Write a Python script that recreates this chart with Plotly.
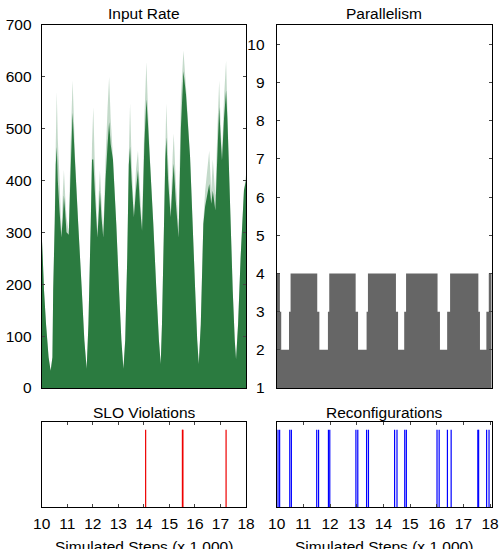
import plotly.graph_objects as go

W, H = 503, 549

# ---------------- data ----------------
# Input rate: simulated steps (x 1,000), solid envelope and faint tip envelope
rate_steps = [10.00, 10.04, 10.09, 10.17, 10.27, 10.35, 10.42, 10.45, 10.51, 10.55,
              10.59, 10.63, 10.70, 10.77, 10.83, 10.87, 10.92, 10.97, 11.06, 11.12,
              11.21, 11.26, 11.30, 11.43, 11.57, 11.67, 11.76, 11.83, 11.92, 11.97,
              12.02, 12.08, 12.18, 12.24, 12.28, 12.34, 12.41, 12.50, 12.58, 12.64,
              12.70, 12.79, 12.92, 13.03, 13.12, 13.20, 13.27, 13.35, 13.41, 13.46,
              13.52, 13.61, 13.69, 13.77, 13.85, 13.93, 14.02, 14.10, 14.16, 14.23,
              14.37, 14.49, 14.59, 14.66, 14.71, 14.79, 14.84, 14.88, 14.95, 15.05,
              15.13, 15.17, 15.25, 15.36, 15.45, 15.55, 15.65, 15.81, 15.91, 16.01,
              16.09, 16.15, 16.23, 16.33, 16.40, 16.56, 16.64, 16.70, 16.80, 16.88,
              16.95, 17.01, 17.06, 17.14, 17.22, 17.27, 17.32, 17.40, 17.48, 17.56,
              17.61, 17.69, 17.79, 17.92, 18.00]
rate_solid = [295, 252, 188, 123, 59, 33, 59, 188, 316, 430,
              464, 400, 340, 290, 330, 370, 340, 300, 295, 400,
              530, 480, 440, 316, 188, 92, 37, 123, 316, 440,
              440, 380, 290, 340, 380, 330, 290, 400, 470, 512,
              470, 440, 316, 188, 92, 37, 92, 252, 430, 464,
              400, 329, 380, 420, 350, 303, 470, 556, 510, 445,
              316, 188, 92, 46, 123, 316, 440, 483, 400, 329,
              400, 432, 360, 290, 500, 610, 565, 445, 316, 188,
              92, 46, 123, 316, 350, 393, 355, 380, 342, 450,
              541, 480, 438, 520, 573, 520, 445, 316, 188, 92,
              55, 123, 252, 381, 400]
rate_tip = [300, 252, 188, 123, 59, 33, 59, 188, 330, 470,
            570, 480, 400, 300, 380, 420, 370, 330, 300, 450,
            592, 520, 450, 316, 188, 92, 37, 123, 316, 470,
            541, 430, 300, 380, 419, 360, 300, 440, 540, 599,
            520, 445, 316, 188, 92, 37, 92, 252, 445, 548,
            440, 335, 420, 457, 380, 310, 520, 628, 540, 450,
            316, 188, 92, 46, 123, 316, 460, 548, 440, 340,
            450, 490, 400, 310, 560, 650, 580, 445, 316, 188,
            92, 46, 123, 320, 380, 457, 380, 440, 370, 500,
            592, 500, 450, 560, 630, 540, 445, 316, 188, 92,
            55, 123, 252, 381, 410]

# Parallelism: step changes
par_steps = [10.00, 10.12, 10.17, 10.46, 10.52, 11.52, 11.60, 11.92, 11.97,
             12.96, 13.05, 13.37, 13.42, 14.47, 14.55, 14.78, 14.85,
             16.03, 16.12, 16.39, 16.50, 17.56, 17.62, 17.86, 17.95, 18.06]
par_values = [4, 3, 2, 3, 4, 3, 2, 3, 4,
              3, 2, 3, 4, 3, 2, 3, 4,
              3, 2, 3, 4, 3, 2, 3, 4, 4]

# SLO violations and reconfiguration events (steps x 1,000)
slo_steps = [14.07, 15.51, 15.53, 17.22]
reconf_steps = [10.05, 10.11, 10.49, 10.55, 11.50, 11.57, 11.94, 11.99,
                12.97, 13.04, 13.37, 13.44, 14.42, 14.51, 14.80, 14.86,
                16.01, 16.09, 16.40, 16.54, 17.54, 17.57, 17.87, 17.96]

rate_ticks = [0, 100, 200, 300, 400, 500, 600, 700]
par_ticks = [1, 2, 3, 4, 5, 6, 7, 8, 9, 10]
step_ticks = [10, 11, 12, 13, 14, 15, 16, 17, 18]

titles = ["Input Rate", "Parallelism", "SLO Violations", "Reconfigurations"]
x_title = "Simulated Steps (x 1,000)"

# ---------------- figure ----------------
FONT = "Liberation Sans, Arial, sans-serif"
GREEN = "#2b7b40"


def px(x):
    return x / W


def py(y):
    return 1 - y / H


def events(ts):
    xs, ys = [], []
    for t in ts:
        xs += [t, t, None]
        ys += [0, 1, None]
    return xs, ys


fig = go.Figure()
fig.add_trace(go.Scatter(x=rate_steps, y=rate_tip, fill="tozeroy", mode="none",
                         fillcolor="rgba(43,123,64,0.28)", xaxis="x", yaxis="y",
                         hoverinfo="skip"))
fig.add_trace(go.Scatter(x=rate_steps, y=rate_solid, fill="tozeroy", mode="none",
                         fillcolor=GREEN, xaxis="x", yaxis="y"))
fig.add_trace(go.Scatter(x=par_steps, y=par_values, fill="tozeroy", mode="lines",
                         line=dict(width=0, color="#666666", shape="hv"),
                         fillcolor="#666666", xaxis="x2", yaxis="y2"))
sx, sy = events(slo_steps)
fig.add_trace(go.Scatter(x=sx, y=sy, mode="lines", line=dict(color="#ee0000", width=1.2),
                         xaxis="x3", yaxis="y3"))
rx, ry = events(reconf_steps)
fig.add_trace(go.Scatter(x=rx, y=ry, mode="lines", line=dict(color="#0000ff", width=1.2),
                         xaxis="x4", yaxis="y4"))

L1, R1 = 41.7, 246.0
L2, R2 = 276.7, 491.7
TOP, BOT = 24.5, 388.0
TOP_B, BOT_B = 422.0, 507.0

common = dict(showline=True, linecolor="black", linewidth=1, mirror=True,
              showgrid=False, zeroline=False, automargin=False,
              tickfont=dict(size=15.5, color="black"))

fig.update_layout(
    template="none",
    width=W, height=H, margin=dict(l=0, r=0, t=0, b=0, pad=0, autoexpand=False),
    paper_bgcolor="white", plot_bgcolor="white", showlegend=False,
    font=dict(family=FONT, color="black", size=15.5),
    xaxis=dict(domain=[px(L1), px(R1)], range=[10, 18], anchor="y",
               showticklabels=False, ticks="", **common),
    yaxis=dict(domain=[py(BOT), py(TOP)], range=[0, 700], anchor="x",
               tickvals=rate_ticks, ticks="inside", ticklen=3,
               ticklabelstandoff=6, **{**common, "mirror": "ticks"}),
    xaxis2=dict(domain=[px(L2), px(R2)], range=[10, 18.06], anchor="y2",
                showticklabels=False, ticks="", **common),
    yaxis2=dict(domain=[py(BOT), py(TOP)], range=[1, 10.52], anchor="x2",
                tickvals=par_ticks, ticks="inside", ticklen=3,
                ticklabelstandoff=8, **{**common, "mirror": "ticks"}),
    xaxis3=dict(domain=[px(L1), px(R1)], range=[10, 18], anchor="y3",
                tickvals=step_ticks, ticks="inside", ticklen=3,
                ticklabelstandoff=2, **{**common, "mirror": "ticks"}),
    yaxis3=dict(domain=[py(BOT_B), py(TOP_B)], range=[0, 1.1], anchor="x3",
                showticklabels=False, ticks="", **common),
    xaxis4=dict(domain=[px(L2), px(R2)], range=[10, 18.06], anchor="y4",
                tickvals=step_ticks, ticks="inside", ticklen=3,
                ticklabelstandoff=2, **{**common, "mirror": "ticks"}),
    yaxis4=dict(domain=[py(BOT_B), py(TOP_B)], range=[0, 1.1], anchor="x4",
                showticklabels=False, ticks="", **common),
)

ann_pos = [((L1 + R1) / 2, 13.5), ((L2 + R2) / 2, 13.5),
           ((L1 + R1) / 2, 412.5), ((L2 + R2) / 2, 412.5)]
for txt, (ax_, ay_) in zip(titles, ann_pos):
    fig.add_annotation(text=txt, x=px(ax_), y=py(ay_), xref="paper", yref="paper",
                       xanchor="center", yanchor="middle", showarrow=False,
                       font=dict(size=15.5, color="black"))
for cx in [(L1 + R1) / 2, (L2 + R2) / 2]:
    fig.add_annotation(text=x_title, x=px(cx), y=py(546.5), xref="paper", yref="paper",
                       xanchor="center", yanchor="middle", showarrow=False,
                       font=dict(size=15.5, color="black"))

fig.write_html(
    "out.html",
    config={"displayModeBar": False},
    post_script="document.body.style.margin='0';document.body.style.overflow='hidden';",
)
